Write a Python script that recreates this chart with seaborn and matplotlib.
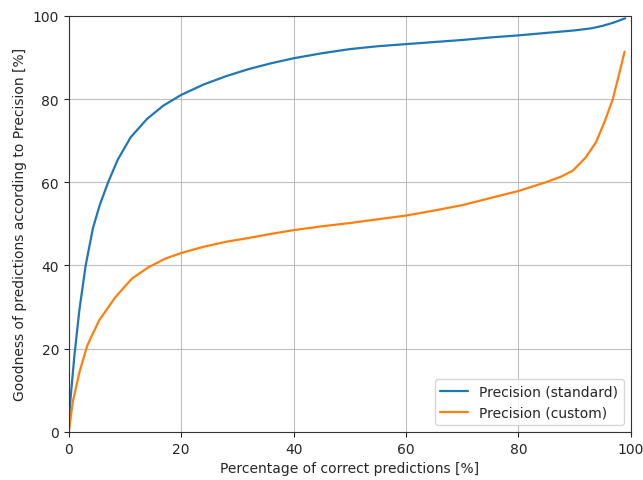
import numpy as np
import pandas as pd
import matplotlib
matplotlib.use('Agg')
import matplotlib.pyplot as plt
import seaborn as sns

# values
x_standard = [0, 0.2, 1.0, 1.9, 3.0, 4.3, 5.5, 7.0, 8.7, 11.0, 13.9, 16.8, 20, 24, 28, 32, 36, 40,
              45, 50, 55, 60, 65, 70, 75, 80, 85, 90, 93, 95, 97, 99]
y_standard = [0, 6.4, 18.4, 29.5, 40, 49, 54.5, 60, 65.4, 70.8, 75.2, 78.4, 81, 83.5, 85.5, 87.2, 88.6, 89.8,
              91, 92, 92.7, 93.2, 93.7, 94.2, 94.8, 95.3, 95.9, 96.5, 97.0, 97.6, 98.4, 99.4]

x_custom = [0, 0.7, 1.9, 3.3, 5.4, 8.3, 11.2, 14.2, 17.1, 20, 24, 28, 32, 36, 40, 45, 50, 55, 60,
            65, 70, 75, 80, 84.9, 87.5, 89.7, 92.0, 93.8, 95.3, 96.8, 98.0, 98.9]
y_custom = [0, 7.2, 14.4, 20.8, 26.8, 32.4, 36.8, 39.6, 41.6, 43, 44.5, 45.7, 46.6, 47.6, 48.5, 49.4, 50.2, 51.1, 52,
            53.2, 54.5, 56.2, 57.9, 60, 61.3, 62.8, 66, 69.6, 74.4, 80, 86.4, 91.4]

labels = ['Precision (standard)', 'Precision (custom)']

df = pd.concat([
    pd.DataFrame({'x': x_standard, 'y': y_standard, 'metric': labels[0]}),
    pd.DataFrame({'x': x_custom, 'y': y_custom, 'metric': labels[1]}),
])

sns.set_style('ticks')
plt.rcParams['font.family'] = ['DejaVu Sans']

fig, ax = plt.subplots(figsize=(6.43, 4.81), dpi=100)
fig.subplots_adjust(left=0.107, right=0.981, top=0.965, bottom=0.1)

sns.lineplot(data=df, x='x', y='y', hue='metric', palette=['#1f77b4', '#ff7f0e'],
             linewidth=1.6, ax=ax, sort=False, estimator=None)

ax.set_xlim(0, 100)
ax.set_ylim(0, 100)
ax.set_xticks([0, 20, 40, 60, 80, 100])
ax.set_yticks([0, 20, 40, 60, 80, 100])
ax.grid(True, color='#b0b0b0', linewidth=0.8, alpha=0.8)
ax.set_xlabel('Percentage of correct predictions [%]')
ax.set_ylabel('Goodness of predictions according to Precision [%]')
for s in ax.spines.values():
    s.set_color('#333333')
ax.legend(title=None, loc='lower right')

fig.savefig('out.png', dpi=100)
